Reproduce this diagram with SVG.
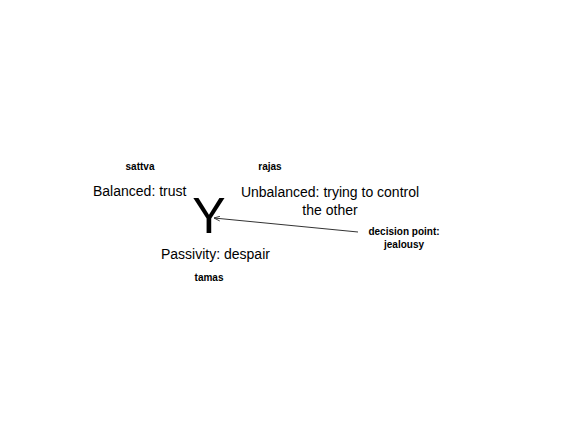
<svg xmlns="http://www.w3.org/2000/svg" width="566" height="424" viewBox="0 0 566 424">
<style>
text{font-family:"Liberation Sans",Arial,sans-serif;fill:#000}
.s{font-size:10px;font-weight:bold;text-anchor:middle}
.m{font-size:14px}
.c{stroke:#333;stroke-width:1;fill:none}
</style>
<defs>
<marker id="ah" viewBox="0 0 10 10" refX="10" refY="5" markerWidth="6" markerHeight="6" orient="auto" markerUnits="userSpaceOnUse">
<path d="M0,1 L10,5 L0,9" fill="none" stroke="#333" stroke-width="1.5"/>
</marker>
</defs>
<rect width="566" height="424" fill="#fff"/>
<g id="connectors">
<line class="c" x1="358" y1="232" x2="214" y2="218" marker-end="url(#ah)"/>
</g>
<g id="sattva"><text class="s" x="140" y="170">sattva</text></g>
<g id="rajas"><text class="s" x="270" y="170">rajas</text></g>
<g id="balanced"><text class="m" x="93" y="196">Balanced: trust</text></g>
<g id="y"><text x="209" y="233" font-size="50" text-anchor="middle">Y</text></g>
<g id="unbalanced"><text class="m" text-anchor="middle" x="330" y="197">Unbalanced: trying to control</text><text class="m" text-anchor="middle" x="330" y="215">the other</text></g>
<g id="passivity"><text class="m" x="161" y="259">Passivity: despair</text></g>
<g id="tamas"><text class="s" x="209" y="281">tamas</text></g>
<g id="decision"><text class="s" x="404" y="235">decision point:</text><text class="s" x="404" y="248">jealousy</text></g>
</svg>
